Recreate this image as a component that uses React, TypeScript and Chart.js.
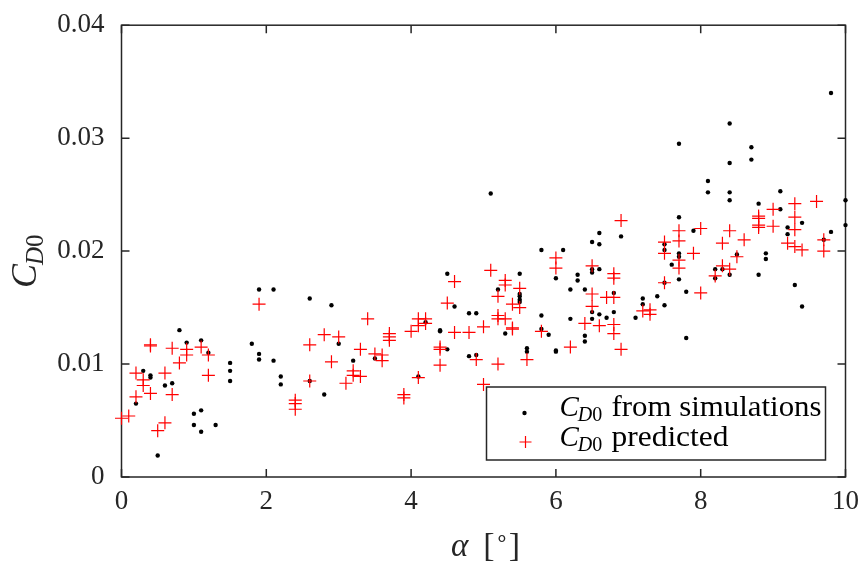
import React, { useEffect, useRef } from "react";
import { Chart, registerables } from "chart.js";

Chart.register(...registerables);

// Zero-lift drag coefficient against angle of attack (deg)
const simAlpha = [
  0.2, 0.3, 0.4, 0.4, 0.5, 0.6, 0.7, 0.8, 0.9, 1.0, 1.0, 1.1, 1.1, 1.1, 1.2, 1.3,
  1.5, 1.5, 1.5, 1.8, 1.9, 1.9, 1.9, 2.1, 2.1, 2.2, 2.2, 2.6, 2.6, 2.8, 2.9, 3.0,
  3.2, 3.5, 4.1, 4.2, 4.4, 4.4, 4.5, 4.5, 4.6, 4.8, 4.8, 4.9, 4.9, 5.1, 5.2, 5.3,
  5.5, 5.5, 5.5, 5.5, 5.5, 5.6, 5.6, 5.8, 5.8, 5.8, 5.9, 6.0, 6.0, 6.0, 6.1, 6.2,
  6.2, 6.3, 6.3, 6.4, 6.4, 6.4, 6.5, 6.5, 6.5, 6.5, 6.5, 6.6, 6.6, 6.6, 6.6, 6.7,
  6.8, 6.8, 6.9, 7.1, 7.2, 7.2, 7.4, 7.5, 7.5, 7.5, 7.5, 7.6, 7.7, 7.7, 7.7, 7.7,
  7.7, 7.8, 7.8, 7.9, 8.1, 8.1, 8.2, 8.2, 8.3, 8.4, 8.4, 8.4, 8.4, 8.4, 8.5, 8.7,
  8.7, 8.8, 8.8, 8.9, 8.9, 9.1, 9.1, 9.2, 9.2, 9.3, 9.4, 9.4, 9.7, 9.8, 9.8, 10.0,
  10.0,
];
const simCd0 = [
  0.0065, 0.0094, 0.009, 0.0088, 0.0019, 0.0081, 0.0083, 0.013, 0.0119, 0.0056, 0.0046, 0.0121, 0.0059, 0.004, 0.011, 0.0046,
  0.0101, 0.0094, 0.0085, 0.0118, 0.0166, 0.0109, 0.0104, 0.0166, 0.0103, 0.0089, 0.0082, 0.0158, 0.0085, 0.0073, 0.0152, 0.0118,
  0.0103, 0.0105, 0.0089, 0.0137, 0.013, 0.0129, 0.018, 0.0113, 0.0151, 0.0145, 0.0107, 0.0145, 0.0108, 0.0251, 0.0166, 0.0127,
  0.018, 0.0162, 0.016, 0.0157, 0.0155, 0.0114, 0.0111, 0.0201, 0.0143, 0.0131, 0.0126, 0.0176, 0.0112, 0.0111, 0.0201, 0.0166,
  0.014, 0.0179, 0.0174, 0.0166, 0.0125, 0.012, 0.0208, 0.0184, 0.0181, 0.0146, 0.014, 0.0216, 0.0206, 0.0184, 0.0144, 0.0141,
  0.0163, 0.0146, 0.0213, 0.0141, 0.0158, 0.0153, 0.016, 0.0206, 0.0201, 0.0172, 0.0152, 0.0188, 0.0295, 0.023, 0.0198, 0.0195,
  0.0175, 0.0164, 0.0123, 0.0218, 0.0262, 0.0252, 0.0184, 0.0176, 0.0184, 0.0313, 0.0278, 0.0252, 0.0245, 0.0179, 0.0197, 0.0292,
  0.0281, 0.0242, 0.0179, 0.0198, 0.0193, 0.0253, 0.0237, 0.0221, 0.0215, 0.017, 0.0225, 0.0151, 0.021, 0.034, 0.0217, 0.0245,
  0.0223,
];

const predAlpha = [
  0.0, 0.1, 0.2, 0.2, 0.3, 0.3, 0.4, 0.4, 0.4, 0.5, 0.6, 0.6, 0.7, 0.7, 0.8, 0.9,
  0.9, 1.1, 1.2, 1.2, 1.9, 2.4, 2.4, 2.4, 2.6, 2.6, 2.8, 2.9, 3.0, 3.1, 3.2, 3.2,
  3.3, 3.3, 3.4, 3.5, 3.6, 3.6, 3.7, 3.7, 3.7, 3.9, 3.9, 4.0, 4.1, 4.1, 4.1, 4.2,
  4.2, 4.4, 4.4, 4.4, 4.5, 4.6, 4.6, 4.8, 4.9, 5.0, 5.0, 5.1, 5.2, 5.2, 5.2, 5.2,
  5.3, 5.3, 5.3, 5.4, 5.4, 5.4, 5.5, 5.5, 5.6, 5.8, 6.0, 6.0, 6.2, 6.4, 6.5, 6.5,
  6.5, 6.6, 6.7, 6.8, 6.8, 6.8, 6.8, 6.8, 6.9, 6.9, 7.2, 7.3, 7.3, 7.5, 7.5, 7.5,
  7.7, 7.7, 7.7, 7.7, 7.9, 8.0, 8.0, 8.2, 8.3, 8.3, 8.4, 8.4, 8.5, 8.6, 8.8, 8.8,
  8.8, 8.8, 9.0, 9.0, 9.2, 9.3, 9.3, 9.3, 9.3, 9.4, 9.6, 9.7, 9.7,
];
const predCd0 = [
  0.0052, 0.0054, 0.0092, 0.0071, 0.0086, 0.0081, 0.0117, 0.0116, 0.0074, 0.0041, 0.0092, 0.0048, 0.0114, 0.0073, 0.0101, 0.0113,
  0.0108, 0.0115, 0.0108, 0.009, 0.0153, 0.0068, 0.0065, 0.006, 0.0117, 0.0085, 0.0126, 0.0102, 0.0124, 0.0083, 0.0094, 0.009,
  0.0113, 0.0089, 0.014, 0.0109, 0.0108, 0.0103, 0.0127, 0.0124, 0.0121, 0.0073, 0.007, 0.0129, 0.014, 0.0134, 0.0088, 0.014,
  0.0136, 0.0115, 0.0113, 0.0099, 0.0154, 0.0173, 0.0128, 0.0128, 0.0104, 0.0133, 0.0082, 0.0183, 0.016, 0.0143, 0.014, 0.01,
  0.0174, 0.017, 0.014, 0.0153, 0.0132, 0.0131, 0.0167, 0.015, 0.0104, 0.0129, 0.0194, 0.0185, 0.0115, 0.0136, 0.0187, 0.0162,
  0.0151, 0.0134, 0.0159, 0.018, 0.0176, 0.0159, 0.0135, 0.0127, 0.0227, 0.0113, 0.0147, 0.0148, 0.0144, 0.0208, 0.0198, 0.0172,
  0.0218, 0.0209, 0.0192, 0.0185, 0.0198, 0.022, 0.0163, 0.0178, 0.0207, 0.0187, 0.0218, 0.0184, 0.0195, 0.021, 0.0231, 0.0229,
  0.0223, 0.0221, 0.0237, 0.0222, 0.0207, 0.0242, 0.023, 0.0219, 0.0204, 0.0201, 0.0244, 0.021, 0.02,
];

const xTicks = [0, 2, 4, 6, 8, 10];
const yTicks = [0, 0.01, 0.02, 0.03, 0.04];
const legendTexts = ["from simulations", "predicted"];

const INK = "#262626";
const SERIF = '"Liberation Serif", "Times New Roman", serif';

type Run = { t: string; font: string; dx?: number; dy?: number };

// draws a sequence of text pieces, each with its own font and offsets
function drawRuns(ctx: CanvasRenderingContext2D, runs: Run[], x: number, y: number) {
  let cx = x;
  for (const r of runs) {
    ctx.font = r.font;
    cx += r.dx || 0;
    ctx.fillText(r.t, cx, y + (r.dy || 0));
    cx += ctx.measureText(r.t).width;
  }
}

// draws text squeezed or stretched horizontally to a given width
function drawFitted(ctx: CanvasRenderingContext2D, t: string, font: string, x: number, y: number, w: number) {
  ctx.font = font;
  const m = ctx.measureText(t).width;
  ctx.save();
  ctx.translate(x, y);
  ctx.scale(w / m, 1);
  ctx.fillText(t, 0, 0);
  ctx.restore();
}

const boxPlugin = {
  id: "boxAxes",
  beforeDatasetsDraw(chart: any) {
    const { ctx, chartArea: a, scales } = chart;
    ctx.save();
    ctx.strokeStyle = INK;
    ctx.lineWidth = 1.5;
    ctx.strokeRect(a.left, a.top, a.right - a.left, a.bottom - a.top);
    const tl = 8;
    ctx.beginPath();
    for (const v of xTicks) {
      const px = scales.x.getPixelForValue(v);
      ctx.moveTo(px, a.bottom);
      ctx.lineTo(px, a.bottom - tl);
      ctx.moveTo(px, a.top);
      ctx.lineTo(px, a.top + tl);
    }
    for (const v of yTicks) {
      const py = scales.y.getPixelForValue(v);
      ctx.moveTo(a.left, py);
      ctx.lineTo(a.left + tl, py);
      ctx.moveTo(a.right, py);
      ctx.lineTo(a.right - tl, py);
    }
    ctx.stroke();
    ctx.restore();
  },
  afterDraw(chart: any) {
    const { ctx, chartArea: a } = chart;
    ctx.save();
    ctx.fillStyle = INK;
    ctx.textBaseline = "alphabetic";
    ctx.textAlign = "left";

    // y-axis title: C_D0, rotated
    ctx.save();
    ctx.translate(36, 288);
    ctx.rotate(-Math.PI / 2);
    drawRuns(ctx, [
      { t: "C", font: `italic 36px ${SERIF}` },
      { t: "D", font: `italic 25px ${SERIF}`, dx: -1, dy: 7 },
      { t: "0", font: `25px ${SERIF}`, dy: 7 },
    ], 0, 0);
    ctx.restore();

    // x-axis title: alpha [deg]
    drawRuns(ctx, [
      { t: "α", font: `italic 33px ${SERIF}` },
      { t: "[", font: `34px ${SERIF}`, dx: 15 },
      { t: "∘", font: `22px ${SERIF}`, dy: -11 },
      { t: "]", font: `34px ${SERIF}` },
    ], 451, 556);

    // legend box
    const bx = a.right - 359;
    const by = a.bottom - 90;
    const bw = 339;
    const bh = 73;
    ctx.fillStyle = "#ffffff";
    ctx.fillRect(bx, by, bw, bh);
    ctx.strokeStyle = INK;
    ctx.lineWidth = 1.5;
    ctx.strokeRect(bx, by, bw, bh);

    // legend markers
    ctx.fillStyle = "#000000";
    ctx.beginPath();
    ctx.arc(bx + 38, by + 26, 2.2, 0, Math.PI * 2);
    ctx.fill();
    ctx.strokeStyle = "#ff0000";
    ctx.lineWidth = 1.2;
    ctx.beginPath();
    ctx.moveTo(bx + 39 - 6, by + 55);
    ctx.lineTo(bx + 39 + 6, by + 55);
    ctx.moveTo(bx + 39, by + 55 - 6);
    ctx.lineTo(bx + 39, by + 55 + 6);
    ctx.stroke();

    // legend texts
    ctx.fillStyle = "#000000";
    const rows = [by + 29, by + 59];
    const widths = [210, 117];
    rows.forEach((ry, i) => {
      drawRuns(ctx, [
        { t: "C", font: `italic 29px ${SERIF}` },
        { t: "D", font: `italic 20px ${SERIF}`, dx: -1, dy: 5 },
        { t: "0", font: `20px ${SERIF}`, dy: 5 },
      ], bx + 73, ry);
      drawFitted(ctx, legendTexts[i], `29px ${SERIF}`, bx + 125, ry, widths[i]);
    });
    ctx.restore();
  },
};

export default function App() {
  const ref = useRef<HTMLCanvasElement>(null);

  useEffect(() => {
    document.body.style.margin = "0";
    const canvas = ref.current;
    if (!canvas) return;
    const chart = new Chart(canvas, {
      type: "scatter",
      data: {
        datasets: [
          {
            label: "C_D0 from simulations",
            data: simAlpha.map((x, i) => ({ x, y: simCd0[i] })),
            pointStyle: "circle",
            pointRadius: 2.2,
            pointBackgroundColor: "#000000",
            pointBorderColor: "#000000",
            pointBorderWidth: 0,
            clip: false as any,
            order: 1,
          },
          {
            label: "C_D0 predicted",
            data: predAlpha.map((x, i) => ({ x, y: predCd0[i] })),
            pointStyle: "cross",
            pointRadius: 6.5,
            pointBorderColor: "#ff0000",
            pointBackgroundColor: "#ff0000",
            pointBorderWidth: 1.2,
            clip: false as any,
            order: 0,
          },
        ],
      },
      options: {
        animation: false,
        responsive: false,
        maintainAspectRatio: false,
        events: [],
        layout: { padding: { top: 20, right: 18.5, left: 0, bottom: 0 } },
        plugins: {
          legend: { display: false },
          tooltip: { enabled: false },
        },
        scales: {
          x: {
            type: "linear",
            min: 0,
            max: 10,
            afterBuildTicks: (s: any) => {
              s.ticks = xTicks.map((v) => ({ value: v }));
            },
            afterFit: (s: any) => {
              s.height = 94;
            },
            grid: { display: false },
            border: { display: false },
            ticks: {
              color: INK,
              font: { family: SERIF, size: 27 },
              padding: 1,
              maxRotation: 0,
              callback: (v: any) => String(v),
            },
          },
          y: {
            type: "linear",
            min: 0,
            max: 0.04,
            afterBuildTicks: (s: any) => {
              s.ticks = yTicks.map((v) => ({ value: v }));
            },
            afterFit: (s: any) => {
              s.width = 121.5;
            },
            grid: { display: false },
            border: { display: false },
            ticks: {
              color: INK,
              font: { family: SERIF, size: 27 },
              padding: 9,
              callback: (v: any) => (v === 0 ? "0" : Number(v).toFixed(2)),
            },
          },
        },
      },
      plugins: [boxPlugin],
    });
    return () => chart.destroy();
  }, []);

  return (
    <div style={{ width: 864, height: 571, background: "#ffffff" }}>
      <canvas ref={ref} width={864} height={571} style={{ display: "block" }} />
    </div>
  );
}
